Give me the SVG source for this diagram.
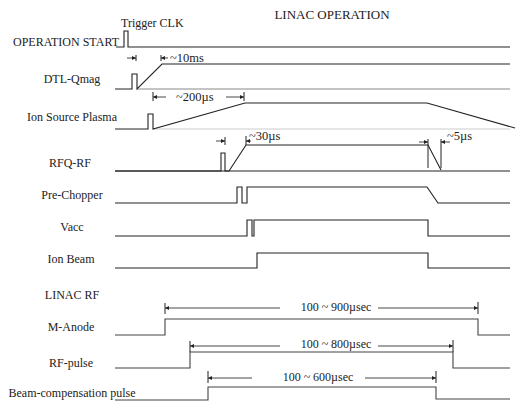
<svg xmlns="http://www.w3.org/2000/svg" width="516" height="407" viewBox="0 0 516 407">
<defs>
<marker id="ah" viewBox="0 0 6 6" refX="6" refY="3" markerWidth="5" markerHeight="4" markerUnits="userSpaceOnUse" orient="auto"><path d="M0,0 L6,3 L0,6 z" fill="#222"/></marker>
<style>
text{font-family:"Liberation Serif","Times New Roman",serif;font-size:12px;fill:#222}
.lbl{text-anchor:middle}
.sig{fill:none;stroke:#222;stroke-width:1.1}
.sig2{fill:none;stroke:#444;stroke-width:1.1}
.base{fill:none;stroke:#888;stroke-width:1}
.faint{fill:none;stroke:#ccc;stroke-width:1}
.dim{fill:none;stroke:#333;stroke-width:0.9}
.tick{fill:none;stroke:#222;stroke-width:1}
</style>
</defs>
<rect width="516" height="407" fill="#fff"/>
<text x="332" y="19" style="font-size:13px" text-anchor="middle">LINAC OPERATION</text>

<g id="operation-start">
<text x="13" y="46">OPERATION START</text>
<text x="121" y="27">Trigger CLK</text>
<path class="sig" d="M116,47 H124 V31 H128 V47 H510"/>
</g>

<g id="dtl-qmag">
<text class="lbl" x="72" y="83">DTL-Qmag</text>
<path class="base" d="M137,89 H510"/>
<path class="sig" d="M115,89 H132 V74 H137 V89 L162,64 H510"/>
</g>

<g id="ion-source-plasma">
<text class="lbl" x="72" y="121">Ion Source Plasma</text>
<path class="faint" d="M153,129 H510"/>
<path class="sig" d="M115,129 H148 V114 H153 V129 L245,103 H427 L515,128"/>
</g>

<g id="rfq-rf">
<text class="lbl" x="70" y="167">RFQ-RF</text>
<path class="sig" d="M115,171 H510"/>
<path class="sig" d="M115,171 H221 V153 H225 V171 H229 L246,145 H428 L441,170"/>
</g>

<g id="pre-chopper">
<text class="lbl" x="72" y="199">Pre-Chopper</text>
<path class="sig" d="M115,203 H237 V187 H242 V203 H247 V187 H427 L438,203 H510"/>
</g>

<g id="vacc">
<text class="lbl" x="72" y="231">Vacc</text>
<path class="sig" d="M115,236 H247 V220 H252 V236 H254 V220 H428 V236 H510"/>
</g>

<g id="ion-beam">
<text class="lbl" x="71" y="263">Ion Beam</text>
<path class="sig" d="M115,268 H257 V253 H428 V268 H510"/>
</g>

<g id="linac-rf">
<text class="lbl" x="72" y="299">LINAC RF</text>
</g>

<g id="m-anode">
<text class="lbl" x="71" y="331">M-Anode</text>
<path class="sig2" d="M115,335 H165 V319 H478 V335 H510"/>
</g>

<g id="rf-pulse">
<text class="lbl" x="71" y="367">RF-pulse</text>
<path class="sig2" d="M115,368 H190 V352 H453 V368 H510"/>
</g>

<g id="beam-compensation-pulse">
<text class="lbl" x="72" y="397">Beam-compensation pulse</text>
<path class="sig2" d="M115,400 H208 V387 H436 V399 H510"/>
</g>

<g id="connectors">
<!-- ~10ms -->
<path class="tick" d="M136,55 V61 M161,55 V61"/>
<line class="dim" x1="127" y1="58" x2="136" y2="58" marker-end="url(#ah)"/>
<line class="dim" x1="168" y1="58" x2="161" y2="58" marker-end="url(#ah)"/>
<text x="170" y="62" style="font-size:12.5px">~10ms</text>
<!-- ~200us -->
<path class="tick" d="M153,92 V101 M244,92 V101"/>
<line class="dim" x1="166" y1="97" x2="153" y2="97" marker-end="url(#ah)"/>
<line class="dim" x1="226" y1="97" x2="244" y2="97" marker-end="url(#ah)"/>
<text x="176" y="101" style="font-size:12.5px">~200µs</text>
<!-- ~30us -->
<path class="tick" d="M225,137 V145 M246,136 V145"/>
<line class="dim" x1="216" y1="141" x2="225" y2="141" marker-end="url(#ah)"/>
<line class="dim" x1="251" y1="141" x2="246" y2="141" marker-end="url(#ah)"/>
<text x="249" y="140" style="font-size:12.5px">~30µs</text>
<!-- ~5us -->
<path class="tick" d="M428,139 V168 M441,139 V168"/>
<line class="dim" x1="419" y1="142" x2="428" y2="142" marker-end="url(#ah)"/>
<line class="dim" x1="450" y1="142" x2="441" y2="142" marker-end="url(#ah)"/>
<text x="447" y="140" style="font-size:12.5px">~5µs</text>
<!-- 100~900 -->
<path class="tick" d="M165,303 V314 M478,302 V314"/>
<line class="dim" x1="280" y1="308" x2="165" y2="308" marker-end="url(#ah)"/>
<line class="dim" x1="378" y1="308" x2="478" y2="308" marker-end="url(#ah)"/>
<text class="lbl" x="336" y="311">100 ~ 900µsec</text>
<!-- 100~800 -->
<path class="tick" d="M190,341 V352 M453,340 V352"/>
<line class="dim" x1="280" y1="346" x2="190" y2="346" marker-end="url(#ah)"/>
<line class="dim" x1="378" y1="346" x2="453" y2="346" marker-end="url(#ah)"/>
<text class="lbl" x="336" y="348">100 ~ 800µsec</text>
<!-- 100~600 -->
<path class="tick" d="M208,371 V383 M436,371 V383"/>
<line class="dim" x1="252" y1="378" x2="208" y2="378" marker-end="url(#ah)"/>
<line class="dim" x1="365" y1="378" x2="436" y2="378" marker-end="url(#ah)"/>
<text class="lbl" x="318" y="381">100 ~ 600µsec</text>
</g>
</svg>
